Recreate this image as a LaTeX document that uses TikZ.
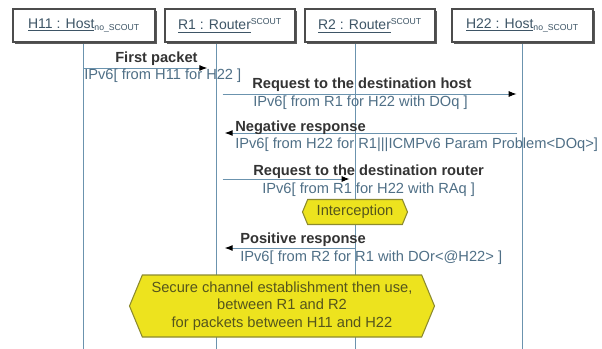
\documentclass[tikz,border=0pt]{standalone}
\usepackage{xcolor}
\usepackage{fontspec}
\setmainfont{Liberation Sans}
\usepackage{tikz}
\usetikzlibrary{arrows.meta}
\usetikzlibrary{shapes.symbols}
\usetikzlibrary{shadows}
\definecolor{lifeblue}{HTML}{6B93AE}
\definecolor{txtblue}{HTML}{4F6F86}
\definecolor{headtxt}{HTML}{3E5566}
\definecolor{hexyellow}{HTML}{EDE31E}
\definecolor{hexedge}{HTML}{8C8A2E}
\definecolor{hextxt}{HTML}{55551C}
\newcommand{\tinyscout}[1]{{\fontsize{6.5}{7}\selectfont #1}}
\tikzstyle{every node}=[font=\fontsize{11}{13}\selectfont]
\tikzstyle{objbox}=[draw=gray!60!black, fill=white, line width=0.9pt, minimum height=24.75pt,
  inner sep=0pt, text=headtxt, font=\fontsize{10.5}{12}\selectfont,
  drop shadow={shadow xshift=1.3pt, shadow yshift=-1.3pt, fill=gray!70!black, opacity=1}]
\tikzstyle{lifeline}=[draw=lifeblue, line width=0.7pt]
\tikzstyle{msg}=[draw=lifeblue, line width=0.7pt, -{Latex[length=6pt,width=4.5pt,color=black]}]
\tikzstyle{msgtitle}=[anchor=west, inner sep=0pt, text=black!80, font=\fontsize{11}{13}\selectfont\bfseries]
\tikzstyle{msgdata}=[anchor=west, inner sep=0pt, text=txtblue]
\tikzstyle{hexnote}=[signal, signal to=east and west, signal pointer angle=135, draw=hexedge,
  fill=hexyellow, line width=0.8pt, text=hextxt, align=center, inner sep=1pt]

\begin{document}
\begin{tikzpicture}[x=0.75pt, y=-0.75pt]
    \useasboundingbox (0,0) rectangle (602,349);
    % lifelines
    \coordinate (h11l) at (83,42);
    \coordinate (r1l) at (216,42);
    \coordinate (r2l) at (355,42);
    \coordinate (h22l) at (522,42);
    \draw[lifeline] (h11l) -- (h11l |- 0,349);
    \draw[lifeline] (r1l) -- (r1l |- 0,349);
    \draw[lifeline] (r2l) -- (r2l |- 0,349);
    \draw[lifeline] (h22l) -- (h22l |- 0,349);
    % objects
    \node[objbox, minimum width=106.5pt] (h11) at (84,25.5) {\underline{H11 : Host}\textsubscript{\tinyscout{no\_SCOUT}}};
    \node[objbox, minimum width=97.5pt] (r1) at (230,25.5) {\underline{R1 : Router}\textsuperscript{\tinyscout{SCOUT}}};
    \node[objbox, minimum width=97.5pt] (r2) at (370,25.5) {\underline{R2 : Router}\textsuperscript{\tinyscout{SCOUT}}};
    \node[objbox, minimum width=105.75pt] (h22) at (522.5,25.5) {\underline{H22 : Host}\textsubscript{\tinyscout{no\_SCOUT}}};
    % messages
    \draw[msg, shorten >=6.5pt] (h11l |- 0,68) -- (r1l |- 0,68);
    \node[msgtitle] (t1) at (115,59) {First packet};
    \node[msgdata] (d1) at (84,76) {IPv6[ from H11 for H22 ]};
    \draw[msg, shorten <=5pt, shorten >=4pt] (r1l |- 0,94) -- (h22l |- 0,94);
    \node[msgtitle] (t2) at (252,85) {Request to the destination host};
    \node[msgdata] (d2) at (253,103) {IPv6[ from R1 for H22 with DOq ]};
    \draw[msg, shorten <=3.5pt, shorten >=6.5pt] (h22l |- 0,133) -- (r1l |- 0,133);
    \node[msgtitle] (t3) at (235,128) {Negative response};
    \node[msgdata] (d3) at (235,145) {IPv6[ from H22 for R1|||ICMPv6 Param Problem<DOq>]};
    \draw[msg, shorten <=5pt, shorten >=4pt] (r1l |- 0,179) -- (r2l |- 0,179);
    \node[msgtitle] (t4) at (253,172) {Request to the destination router};
    \node[msgdata] (d4) at (262,190) {IPv6[ from R1 for H22 with RAq ]};
    \node[hexnote, minimum width=78.75pt, minimum height=18.75pt] (icpt) at (355,212) {Interception};
    \draw[msg, shorten >=6.5pt] (r2l |- 0,248) -- (r1l |- 0,248);
    \node[msgtitle] (t5) at (240,240) {Positive response};
    \node[msgdata] (d5) at (240,258) {IPv6[ from R2 for R1 with DOr<@H22> ]};
    \node[hexnote, minimum width=228.75pt, minimum height=46.5pt] (chan) at (282,306)
        {Secure channel establishment then use,\\between R1 and R2\\for packets between H11 and H22};
\end{tikzpicture}
\end{document}
